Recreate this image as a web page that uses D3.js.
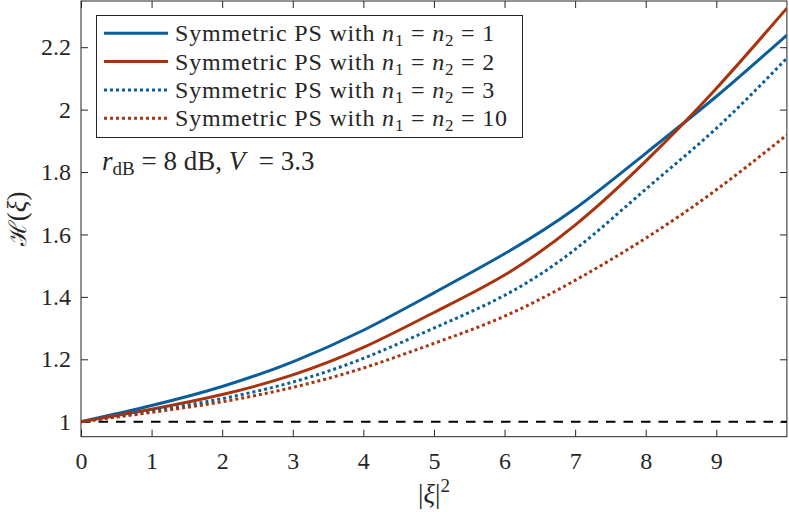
<!DOCTYPE html>
<html>
<head>
<meta charset="utf-8">
<script src="https://cdn.jsdelivr.net/npm/d3@7"></script>
<style>
body { margin: 0; background: #fff; }
text { font-family: "Liberation Serif", serif; fill: #262626; }
</style>
</head>
<body>
<script>
// |xi|^2 sample points
const xi2 = [0, 1, 2, 3, 4, 5, 6, 7, 8, 9, 10];
// H(xi), one array per curve
const symN1 = [1, 1.052, 1.113, 1.192, 1.293, 1.413, 1.538, 1.683, 1.860, 2.042, 2.239];
const symN2 = [1, 1.040, 1.087, 1.150, 1.238, 1.350, 1.470, 1.630, 1.835, 2.068, 2.325];
const symN3 = [1, 1.034, 1.074, 1.127, 1.203, 1.300, 1.405, 1.552, 1.745, 1.940, 2.165];
const symN10 = [1, 1.030, 1.064, 1.110, 1.172, 1.251, 1.338, 1.453, 1.588, 1.743, 1.919];
const nLabels = ["1", "2", "3", "10"];
const xTicks = [0, 1, 2, 3, 4, 5, 6, 7, 8, 9];
const yTicks = [1, 1.2, 1.4, 1.6, 1.8, 2, 2.2];
const baseline = 1;

const width = 789, height = 512;
const blue = "#0b5e99", red = "#a8330f";

const series = [
  {vals: symN1, color: blue, dotted: false, n: nLabels[0]},
  {vals: symN2, color: red, dotted: false, n: nLabels[1]},
  {vals: symN3, color: blue, dotted: true, n: nLabels[2]},
  {vals: symN10, color: red, dotted: true, n: nLabels[3]}
];

const svg = d3.select("body").append("svg")
  .attr("width", width)
  .attr("height", height);

const x = d3.scaleLinear().domain([0, 10]).range([81, 786.9]);
const y = d3.scaleLinear().domain([0.952, 2.348]).range([436.7, 1]);

svg.append("clipPath").attr("id", "clip")
  .append("rect")
  .attr("x", x(0)).attr("y", y(2.348))
  .attr("width", x(10) - x(0)).attr("height", y(0.952) - y(2.348));

// axes
const axB = svg.append("g").attr("transform", `translate(0,${y(0.952)})`)
  .call(d3.axisBottom(x).tickValues(xTicks).tickFormat(d3.format("d"))
    .tickSizeInner(-7).tickSizeOuter(0).tickPadding(15));
const axL = svg.append("g").attr("transform", `translate(${x(0)},0)`)
  .call(d3.axisLeft(y).tickValues(yTicks).tickFormat(d => d3.format("")(+d.toFixed(1)))
    .tickSizeInner(-7).tickSizeOuter(0).tickPadding(10));
const axT = svg.append("g").attr("transform", `translate(0,${y(2.348)})`)
  .call(d3.axisTop(x).tickValues(xTicks).tickFormat("")
    .tickSizeInner(-7).tickSizeOuter(0));
const axR = svg.append("g").attr("transform", `translate(${x(10)},0)`)
  .call(d3.axisRight(y).tickValues(yTicks).tickFormat("")
    .tickSizeInner(-7).tickSizeOuter(0));

[axB, axL, axT, axR].forEach(a => {
  a.select(".domain").remove();
  a.selectAll(".tick line").attr("stroke", "#262626");
  a.selectAll("text").style("font-family", "Liberation Serif").style("font-size", "24px").attr("fill", "#262626");
});

svg.append("rect")
  .attr("x", x(0)).attr("y", y(2.348))
  .attr("width", x(10) - x(0)).attr("height", y(0.952) - y(2.348))
  .attr("fill", "none").attr("stroke", "#262626").attr("stroke-width", 1);

const plot = svg.append("g").attr("clip-path", "url(#clip)");

// reference line at H = 1
plot.append("line")
  .attr("x1", x(0)).attr("x2", x(10))
  .attr("y1", y(baseline)).attr("y2", y(baseline))
  .attr("stroke", "#000").attr("stroke-width", 2)
  .attr("stroke-dasharray", "9.5,8");

const line = d3.line()
  .x((d, i) => x(xi2[i]))
  .y(d => y(d))
  .curve(d3.curveNatural);

series.forEach(s => {
  plot.append("path")
    .attr("d", line(s.vals))
    .attr("fill", "none")
    .attr("stroke", s.color)
    .attr("stroke-width", 3)
    .attr("stroke-dasharray", s.dotted ? "3,3" : null);
});

// legend
const lg = svg.append("g");
lg.append("rect")
  .attr("x", 96.5).attr("y", 15.5).attr("width", 426).attr("height", 122)
  .attr("fill", "#fff").attr("stroke", "#262626").attr("stroke-width", 1);

series.forEach((s, i) => {
  const cy = 33.3 + i * 28.3;
  lg.append("line")
    .attr("x1", 104).attr("x2", 168).attr("y1", cy).attr("y2", cy)
    .attr("stroke", s.color).attr("stroke-width", 3)
    .attr("stroke-dasharray", s.dotted ? "3,3" : null);
  const t = lg.append("text").attr("x", 175).attr("y", cy + 8)
    .style("font-size", "24px").attr("letter-spacing", "0.8");
  t.append("tspan").text("Symmetric PS with ");
  t.append("tspan").attr("font-style", "italic").text("n");
  t.append("tspan").attr("dy", 5).style("font-size", "17px").text("1");
  t.append("tspan").attr("dy", -5).text(" = ");
  t.append("tspan").attr("font-style", "italic").text("n");
  t.append("tspan").attr("dy", 5).style("font-size", "17px").text("2");
  t.append("tspan").attr("dy", -5).text(" = " + s.n);
});

// annotation
const ann = svg.append("text").attr("x", 102).attr("y", 170).style("font-size", "27px");
ann.append("tspan").attr("font-style", "italic").text("r");
ann.append("tspan").attr("dy", 5).style("font-size", "19px").text("dB");
ann.append("tspan").attr("dy", -5).text(" = 8 dB, ");
ann.append("tspan").attr("font-style", "italic").text("V");
ann.append("tspan").text("  = 3.3").attr("xml:space", "preserve");

// axis titles
const xl = svg.append("text").attr("x", (x(0) + x(10)) / 2).attr("y", 503)
  .attr("text-anchor", "middle").style("font-size", "27px");
xl.append("tspan").text("|");
xl.append("tspan").attr("font-style", "italic").text("ξ");
xl.append("tspan").text("|");
xl.append("tspan").attr("dy", -11).style("font-size", "19px").text("2");

const yl = svg.append("text")
  .attr("transform", `translate(26,${(y(0.952) + y(2.348)) / 2}) rotate(-90)`)
  .attr("text-anchor", "middle").style("font-size", "27px");
yl.append("tspan").style("font-family", "DejaVu Serif").style("font-size", "24px").text("ℋ");
yl.append("tspan").text("(");
yl.append("tspan").attr("font-style", "italic").text("ξ");
yl.append("tspan").text(")");
</script>
</body>
</html>
